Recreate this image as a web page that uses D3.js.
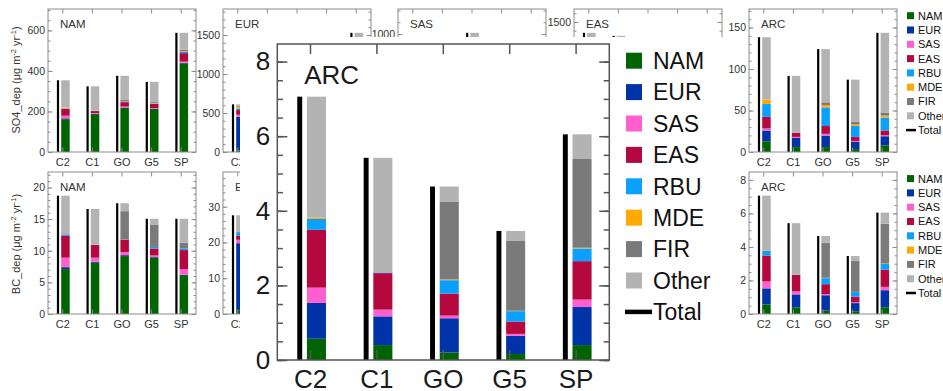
<!DOCTYPE html>
<html><head><meta charset="utf-8">
<script src="https://cdn.jsdelivr.net/npm/d3@7"></script>
<style>
body{margin:0;background:#fff}
svg{display:block;font-family:"Liberation Sans",Arial,Helvetica,sans-serif}
</style>
</head><body>
<svg id="c" width="943" height="391"></svg>
<script>
const categories = ["C2","C1","GO","G5","SP"];
const sources = ["NAM","EUR","SAS","EAS","RBU","MDE","FIR","Other"];
const sourceColors = ["#006400","#0033a8","#ff5fcf","#b5083f","#0aa0ff","#ffaa00","#7a7a7a","#b3b3b3"];

// Segment values per category (rows C2..SP), columns follow `sources`. null = hidden behind inset.
const namSO4 = [
  [162, 4, 13, 33, 3, 5, 0, 134],
  [187, 2, 3, 10, 1, 1, 0, 120],
  [217, 2, 5, 22, 1, 2, 8, 119],
  [212, 2, 3, 20, 2, 2, 5, 100],
  [438, 2, 6, 42, 6, 3, 8, 83]
];
const namSO4Total = [354, 324, 376, 346, 588];

const eurSO4 = [
  [20, 432, 26, 60, 20, 25, 8, 20],
  null, null, null,
  [20, 1000, 20, 80, 40, 60, 20, 288]
];
const eurSO4Total = [611, null, null, null, 1528];

const sasSO4 = [null, null, [10, 40, 700, 60, 20, 40, 10, 130], null, null];
const sasSO4Total = [null, null, 1010, null, null];

const easSO4 = [
  [10, 30, 40, 1100, 30, 20, 10, 135],
  [10, 30, 40, 1080, 30, 20, 10, 120],
  null, null, null
];
const easSO4Total = [1375, 1340, null, null, null];

const arcSO4 = [
  [12.9, 13.0, 2.5, 13.9, 15.5, 5.3, 0, 75.2],
  [5.9, 11.1, 1.2, 4.9, 0, 0, 0, 68.6],
  [5.9, 13.9, 2.1, 9.4, 22.4, 2.9, 3.2, 64.2],
  [3.5, 8.6, 1.2, 4.9, 13.1, 2.0, 3.3, 50.6],
  [8.0, 11.0, 1.2, 5.7, 15.6, 2.4, 3.7, 96.0]
];
const arcSO4Total = [138.3, 91.7, 124.0, 87.2, 143.6];

const namBC = [
  [7.1, 0.3, 1.5, 3.5, 0.2, 0, 0, 6.1],
  [8.1, 0.15, 0.65, 2.0, 0.05, 0, 0, 5.65],
  [9.15, 0.15, 0.5, 1.9, 0.05, 0, 4.5, 1.25],
  [8.9, 0.1, 0.25, 1.1, 0.25, 0, 3.55, 0.9],
  [6.15, 0.05, 0.9, 3.0, 0.25, 0, 0.9, 3.8]
];
const namBCTotal = [18.7, 16.6, 17.5, 15.05, 15.05];

const eurBC = [[0.9, 18.9, 0.95, 1.2, 0.95, 0, 0, 4.7], null, null, null, null];
const eurBCTotal = [27.6, null, null, null, null];
const eurBCAxisMax = 39.7;

const arcBC = [
  [0.57, 0.96, 0.41, 1.55, 0.29, 0.04, 0, 3.24],
  [0.40, 0.77, 0.18, 0.98, 0.02, 0, 0, 3.07],
  [0.20, 0.92, 0.07, 0.59, 0.36, 0.02, 2.09, 0.40],
  [0.16, 0.49, 0.05, 0.33, 0.28, 0.01, 1.87, 0.27],
  [0.40, 1.02, 0.20, 1.03, 0.34, 0.02, 2.38, 0.66]
];
const arcBCTotal = [7.06, 5.42, 4.65, 3.46, 6.05];

const svg = d3.select("#c");
const inset = { x: 240, y: 37, w: 487, h: 354 };

function drawPanel(g, p) {
  const s = p.s;
  const x = d3.scaleBand().domain(categories).range([p.x0, p.x0 + p.w]);
  const y = d3.scaleLinear().domain([0, p.yMax]).range([p.y0 + p.h, p.y0]);
  const frameCol = p.frameCol, textCol = p.textCol;

  categories.forEach((c, i) => {
    const tot = p.tot[i];
    if (tot == null) return;
    const cx = x(c) + x.bandwidth() / 2;
    g.append("rect").attr("x", cx - 5.9 * s).attr("width", 2.2 * s)
      .attr("y", y(tot)).attr("height", y(0) - y(tot)).attr("fill", "#000");
    let acc = 0;
    p.seg[i].forEach((v, k) => {
      if (!v) return;
      g.append("rect").attr("x", cx - 1.6 * s).attr("width", 8.5 * s)
        .attr("y", y(acc + v)).attr("height", y(acc) - y(acc + v))
        .attr("fill", sourceColors[k]);
      acc += v;
    });
  });

  const major = d3.range(0, p.yMax + 1e-9, p.major);
  const minor = d3.range(0, p.yMax + 1e-9, p.minor);

  const aMinL = g.append("g").attr("transform", `translate(${p.x0},0)`)
    .call(d3.axisLeft(y).tickValues(minor).tickSize(-2.5 * s).tickFormat(""));
  const aMinR = g.append("g").attr("transform", `translate(${p.x0 + p.w},0)`)
    .call(d3.axisRight(y).tickValues(minor).tickSize(-2.5 * s).tickFormat(""));
  const aMajR = g.append("g").attr("transform", `translate(${p.x0 + p.w},0)`)
    .call(d3.axisRight(y).tickValues(major).tickSize(-4.5 * s).tickFormat(""));
  const aL = g.append("g").attr("transform", `translate(${p.x0},0)`)
    .call(d3.axisLeft(y).tickValues(major).tickSize(-4.5 * s).tickPadding(p.yPad).tickFormat(d3.format("d")));
  const aT = g.append("g").attr("transform", `translate(0,${p.y0})`)
    .call(d3.axisTop(x).tickSize(-4.5 * s).tickFormat(""));
  const aB = g.append("g").attr("transform", `translate(0,${p.y0 + p.h})`)
    .call(d3.axisBottom(x).tickSize(-4.5 * s).tickPadding(p.xPad));
  [aMinL, aMinR, aMajR, aL, aT, aB].forEach(a => {
    a.select(".domain").remove();
    a.selectAll("line").attr("stroke", frameCol).attr("stroke-width", p.lw);
    a.selectAll("text").attr("fill", textCol).style("font-family", "inherit");
  });
  aL.selectAll("text").style("font-size", p.tickFont + "px");
  aB.selectAll("text").style("font-size", p.xFont + "px");

  g.append("rect").attr("x", p.x0).attr("y", p.y0).attr("width", p.w).attr("height", p.h)
    .attr("fill", "none").attr("stroke", frameCol).attr("stroke-width", p.lw);

  g.append("text").attr("x", p.x0 + 12 * s).attr("y", p.y0 + p.titleDy)
    .attr("fill", textCol).style("font-size", p.titleFont + "px").text(p.title);
}

const colX = [48, 223, 398, 574, 749];
const small = { s: 1, w: 148, frameCol: "#8c8c8c", textCol: "#333", lw: 1,
  yPad: 3, xPad: 6, tickFont: 10.5, xFont: 11, titleFont: 11.5, titleDy: 19 };
const row1 = { y0: 9, h: 143 };
const row2 = { y0: 172, h: 142 };

const panels = [
  { ...small, ...row1, x0: colX[0], title: "NAM", seg: namSO4, tot: namSO4Total, yMax: 1.2 * d3.max(namSO4Total), major: 200, minor: 50 },
  { ...small, ...row1, x0: colX[1], title: "EUR", seg: eurSO4, tot: eurSO4Total, yMax: 1.2 * d3.max(eurSO4Total), major: 500, minor: 100 },
  { ...small, ...row1, x0: colX[2], title: "SAS", seg: sasSO4, tot: sasSO4Total, yMax: 1.2 * d3.max(sasSO4Total), major: 500, minor: 100 },
  { ...small, ...row1, x0: colX[3], title: "EAS", seg: easSO4, tot: easSO4Total, yMax: 1.2 * d3.max(easSO4Total), major: 500, minor: 100 },
  { ...small, ...row1, x0: colX[4], title: "ARC", seg: arcSO4, tot: arcSO4Total, yMax: 1.2 * d3.max(arcSO4Total), major: 50, minor: 10 },
  { ...small, ...row2, x0: colX[0], title: "NAM", seg: namBC, tot: namBCTotal, yMax: 1.2 * d3.max(namBCTotal), major: 5, minor: 1 },
  { ...small, ...row2, x0: colX[1], title: "EUR", seg: eurBC, tot: eurBCTotal, yMax: eurBCAxisMax, major: 10, minor: 2 },
  { ...small, ...row2, x0: colX[4], title: "ARC", seg: arcBC, tot: arcBCTotal, yMax: 1.2 * d3.max(arcBCTotal), major: 2, minor: 0.5 }
];
const gSmall = svg.append("g");
panels.forEach(p => drawPanel(gSmall.append("g"), p));

// drop texts that lie completely under the inset (they are never visible)
gSmall.selectAll("text").each(function () {
  const b = this.getBBox();
  const m = this.getCTM();
  const x1 = m.e + b.x, y1 = m.f + b.y, x2 = x1 + b.width, y2 = y1 + b.height;
  if (x1 >= inset.x && x2 <= inset.x + inset.w && y1 >= inset.y && y2 <= inset.y + inset.h) this.remove();
});

function yTitle(cy, main) {
  const t = svg.append("text").attr("transform", `translate(20,${cy}) rotate(-90)`)
    .attr("text-anchor", "middle").attr("fill", "#333").style("font-size", "11px");
  t.append("tspan").text(main + " (\u03bcg m");
  t.append("tspan").attr("dy", -4).style("font-size", "7.5px").text("-2");
  t.append("tspan").attr("dy", 4).text(" yr");
  t.append("tspan").attr("dy", -4).style("font-size", "7.5px").text("-1");
  t.append("tspan").attr("dy", 4).text(")");
}
yTitle(80, "SO4_dep");
yTitle(244, "BC_dep");

function legend(g, x, y0, step, sq, tx, font, lineW, lineLen) {
  sources.forEach((src, i) => {
    const cy = y0 + i * step;
    g.append("rect").attr("x", x).attr("y", cy - sq / 2).attr("width", sq).attr("height", sq)
      .attr("fill", sourceColors[i]);
    g.append("text").attr("x", x + tx).attr("y", cy).attr("dy", "0.36em")
      .attr("fill", "#111").style("font-size", font + "px").text(src);
  });
  const cy = y0 + sources.length * step;
  g.append("line").attr("x1", x - 1).attr("x2", x - 1 + lineLen).attr("y1", cy).attr("y2", cy)
    .attr("stroke", "#000").attr("stroke-width", lineW);
  g.append("text").attr("x", x + tx).attr("y", cy).attr("dy", "0.36em")
    .attr("fill", "#111").style("font-size", font + "px").text("Total");
}
legend(svg.append("g"), 907, 15.7, 14.3, 7, 11, 11, 2.5, 10);
legend(svg.append("g"), 907, 178.6, 14.3, 7, 11, 11, 2.5, 10);

svg.append("rect").attr("x", inset.x).attr("y", inset.y).attr("width", inset.w).attr("height", inset.h).attr("fill", "#fff");
const big = svg.append("g");
drawPanel(big, { s: 2.243, x0: 277.3, w: 332, y0: 44, h: 316, frameCol: "#555", textCol: "#1a1a1a", lw: 1.5,
  yPad: 7, xPad: 9.5, tickFont: 26, xFont: 26, titleFont: 26, titleDy: 40,
  title: "ARC", seg: arcBC, tot: arcBCTotal, yMax: 1.2 * d3.max(arcBCTotal), major: 2, minor: 0.5 });
legend(svg.append("g"), 626, 60.7, 31.4, 16, 27, 23, 4.5, 27);
</script>
</body></html>
